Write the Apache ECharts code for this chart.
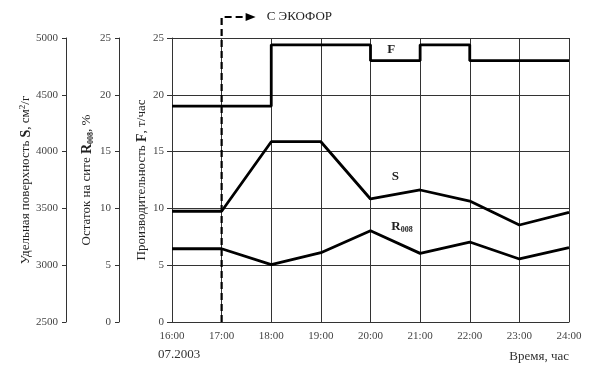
<!DOCTYPE html>
<html><head><meta charset="utf-8">
<script src="https://cdn.jsdelivr.net/npm/echarts@6/dist/echarts.min.js"></script>
<style>html,body{margin:0;padding:0;background:#fff}#c{width:600px;height:370px}</style>
</head><body><div id="c"></div>
<script>
// ---- data ----
const hours = [16, 17, 18, 19, 20, 21, 22, 23, 24];
const sValues = [3475, 3475, 4087, 4087, 3583, 3662, 3565, 3354, 3465];   // S, см2/г
const rValues = [6.45, 6.45, 5.05, 6.1, 8.04, 6.04, 7.04, 5.55, 6.54];     // R008, %
const fTimes = [16, 18, 20, 21, 22, 24];
const fValues = [19.0, 24.4, 23.0, 24.4, 23.0, 23.0];                      // F, т/час
const ecoforStart = 17;
const dateLabel = '07.2003';
const xTitle = 'Время, час';
const ecoforText = 'С ЭКОФОР';
const fTitle = 'Производительность {b|F}, т/час';
const rTitle = 'Остаток на сите {b|R}{sub|008}, %';
const sTitle = 'Удельная поверхность {b|S}, см{sup|2}/г';

const FONT = '"Liberation Serif", "Times New Roman", serif';
const chart = echarts.init(document.getElementById('c'), null, {renderer: 'canvas'});
const tickLbl = {color: '#444', fontFamily: FONT, fontSize: 11};
const nameRich = {
  n: {font: '13px ' + FONT, fill: '#222', lineHeight: 16},
  b: {font: 'bold 14px ' + FONT, fill: '#222', lineHeight: 16},
  sup: {font: '9px ' + FONT, fill: '#222', verticalAlign: 'top', lineHeight: 16},
  sub: {font: 'bold 8px ' + FONT, fill: '#222', verticalAlign: 'bottom', lineHeight: 16}
};
const axisLine = {show: true, lineStyle: {color: '#333', width: 1}};

chart.setOption({
  animation: false,
  grid: {left: 172, right: 31, top: 38, bottom: 48},
  xAxis: {
    type: 'value', min: 16, max: 24, interval: 1,
    axisLine: axisLine, axisTick: {show: false},
    axisLabel: {...tickLbl, margin: 9, formatter: v => v + ':00'},
    splitLine: {show: true, lineStyle: {color: '#333', width: 1}}
  },
  yAxis: [
    {
      type: 'value', min: 0, max: 25, interval: 5, position: 'left', offset: 0,
      axisLine: axisLine, axisTick: {show: true, length: 5, lineStyle: {color: '#333'}},
      axisLabel: {...tickLbl, margin: 8},
      splitLine: {show: true, lineStyle: {color: '#333', width: 1}}
    },
    {
      type: 'value', min: 0, max: 25, interval: 5, position: 'left', offset: 53,
      axisLine: axisLine, axisTick: {show: true, length: 4, lineStyle: {color: '#333'}},
      axisLabel: {...tickLbl, margin: 8},
      splitLine: {show: false}
    },
    {
      type: 'value', min: 2500, max: 5000, interval: 500, position: 'left', offset: 106,
      axisLine: axisLine, axisTick: {show: true, length: 4, lineStyle: {color: '#333'}},
      axisLabel: {...tickLbl, margin: 8, formatter: v => String(v)},
      splitLine: {show: false}
    }
  ],
  series: [
    {
      type: 'line', name: 'F', yAxisIndex: 0, step: 'end', symbol: 'none',
      data: fTimes.map((t, i) => [t, fValues[i]]),
      lineStyle: {color: '#000', width: 2.8}
    },
    {
      type: 'line', name: 'R008', yAxisIndex: 1, symbol: 'none',
      data: hours.map((t, i) => [t, rValues[i]]),
      lineStyle: {color: '#000', width: 2.8}
    },
    {
      type: 'line', name: 'S', yAxisIndex: 2, symbol: 'none',
      data: hours.map((t, i) => [t, sValues[i]]),
      lineStyle: {color: '#000', width: 2.8}
    }
  ]
});

function px(x, y) { return chart.convertToPixel({xAxisIndex: 0, yAxisIndex: 0}, [x, y]); }
const base = px(ecoforStart, 0);
const x0 = px(16, 0), xEnd = px(24, 0);
const midY = (px(16, 0)[1] + px(16, 25)[1]) / 2;
const topY = 17;
function vTitle(text, cx) {
  return {type: 'text', x: cx, y: midY, rotation: Math.PI / 2,
    style: {text: text.replace(/^([^{]+)/, '{n|$1}').replace(/\}([^{}]+)$/, '}{n|$1}').replace(/\}([^{}|]+)\{/g, '}{n|$1}{'),
      textAlign: 'center', textVerticalAlign: 'middle', rich: nameRich}};
}
chart.setOption({
  graphic: [
    vTitle(fTitle, 142),
    vTitle(rTitle, 87),
    vTitle(sTitle, 26),
    {type: 'polyline', shape: {points: [[base[0], base[1]], [base[0], topY], [base[0] + 26, topY]]},
     style: {stroke: '#000', lineWidth: 2.2, lineDash: [7, 4], fill: null}},
    {type: 'polygon', shape: {points: [[base[0] + 24, topY - 4], [base[0] + 34, topY], [base[0] + 24, topY + 4]]},
     style: {fill: '#000'}},
    {type: 'text', x: base[0] + 45, y: topY, style: {text: ecoforText, font: '13px ' + FONT, fill: '#222', textVerticalAlign: 'middle'}},
    {type: 'text', x: px(20.42, 0)[0], y: px(0, 23.94)[1], style: {text: 'F', font: 'bold 13px ' + FONT, fill: '#222', textAlign: 'center', textVerticalAlign: 'middle'}},
    {type: 'text', x: px(20.5, 0)[0], y: px(0, 12.76)[1], style: {text: 'S', font: 'bold 13px ' + FONT, fill: '#222', textAlign: 'center', textVerticalAlign: 'middle'}},
    {type: 'text', x: px(20.42, 0)[0], y: px(0, 8.36)[1], style: {
      text: '{b|R}{sub|008}', textVerticalAlign: 'middle',
      rich: {b: {font: 'bold 13px ' + FONT, fill: '#222'}, sub: {font: 'bold 8px ' + FONT, fill: '#222', verticalAlign: 'bottom', lineHeight: 12}}
    }},
    {type: 'text', x: x0[0] - 14, y: 355, style: {text: dateLabel, font: '13px ' + FONT, fill: '#333', textVerticalAlign: 'middle'}},
    {type: 'text', x: xEnd[0], y: 357, style: {text: xTitle, font: '13px ' + FONT, fill: '#333', textAlign: 'right', textVerticalAlign: 'middle'}}
  ]
});
</script>
</body></html>
